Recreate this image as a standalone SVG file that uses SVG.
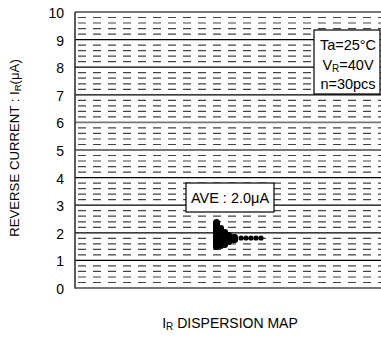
<svg xmlns="http://www.w3.org/2000/svg" width="381" height="343" viewBox="0 0 381 343">
<style>
text{font-family:"Liberation Sans",Arial,sans-serif;fill:#000}
.tick{font-size:14px;text-anchor:end}
.major{stroke:#000;stroke-width:1.2;fill:none}
.majg{stroke:#777;stroke-width:1.8;fill:none}
.minor{stroke:#444;stroke-width:1.2;stroke-dasharray:8 7;fill:none}
.box{fill:#fff;stroke:#000;stroke-width:1.2}
.lbl{font-size:13.2px}
.big{font-size:14.5px}
</style>
<rect width="381" height="343" fill="#fff"/>
<g id="grid">
<path class="minor" d="M78 282.5H381M78 277H381M78 271.4H381M78 265.9H381M78 254.9H381M78 249.4H381M78 243.8H381M78 238.3H381M78 227.3H381M78 221.8H381M78 216.2H381M78 210.7H381M78 199.7H381M78 194.2H381M78 188.6H381M78 183.1H381M78 172.1H381M78 166.6H381M78 161H381M78 155.5H381M78 144.5H381M78 139H381M78 133.4H381M78 127.9H381M78 116.9H381M78 111.4H381M78 105.8H381M78 100.3H381M78 89.3H381M78 83.8H381M78 78.2H381M78 72.7H381M78 61.7H381M78 56.2H381M78 50.6H381M78 45.1H381M78 34.1H381M78 28.6H381M78 23H381M78 17.5H381"/>
<path class="major" d="M75 260.4H381M75 232.8H381M75 205.2H381M75 177.6H381M75 94.8H381M75 67.2H381M75 39.6H381"/>
<path class="majg" d="M75 12H381M75 288H381M75 150H381M75 122.4H381"/>
<path d="M75 12V288.5" stroke="#333" stroke-width="1.6"/>
</g>
<g id="yticks">
<text class="tick" x="64" y="18">10</text>
<text class="tick" x="64" y="45.6">9</text>
<text class="tick" x="64" y="73.2">8</text>
<text class="tick" x="64" y="100.8">7</text>
<text class="tick" x="64" y="128.4">6</text>
<text class="tick" x="64" y="156">5</text>
<text class="tick" x="64" y="183.6">4</text>
<text class="tick" x="64" y="211.2">3</text>
<text class="tick" x="64" y="238.8">2</text>
<text class="tick" x="64" y="266.4">1</text>
<text class="tick" x="64" y="294">0</text>
</g>
<g id="ylabel">
<text class="lbl" transform="translate(18.5 148) rotate(-90)" text-anchor="middle">REVERSE CURRENT : I<tspan font-size="9.5" dy="2">R</tspan><tspan dy="-2">(μA)</tspan></text>
</g>
<g id="conditions">
<rect class="box" x="314" y="30" width="66" height="64"/>
<text class="big" x="348" y="50" text-anchor="middle">Ta=25°C</text>
<text class="big" x="348" y="69.5" text-anchor="middle">V<tspan font-size="10" dy="2.5">R</tspan><tspan dy="-2.5">=40V</tspan></text>
<text class="big" x="348" y="89" text-anchor="middle">n=30pcs</text>
</g>
<g id="average">
<rect class="box" x="186" y="183" width="88" height="29"/>
<text class="big" x="230" y="203" text-anchor="middle">AVE : 2.0μA</text>
</g>
<g id="data" fill="#000">
<rect x="213" y="219" width="7" height="31" rx="3.5"/>
<rect x="218" y="225" width="6" height="24" rx="3"/>
<rect x="222" y="229" width="6" height="19" rx="3"/>
<rect x="226" y="232" width="6" height="13" rx="3"/>
<rect x="230" y="234" width="8" height="9" rx="3"/>
<circle cx="241" cy="238" r="2.6"/>
<circle cx="246" cy="238" r="2.6"/>
<circle cx="251" cy="238" r="2.6"/>
<circle cx="256" cy="238" r="2.6"/>
<circle cx="261" cy="238" r="2.6"/>
</g>
<g id="xlabel">
<text x="230" y="328" text-anchor="middle" font-size="14">I<tspan font-size="10" dy="2">R</tspan><tspan dy="-2"> DISPERSION MAP</tspan></text>
</g>
</svg>
